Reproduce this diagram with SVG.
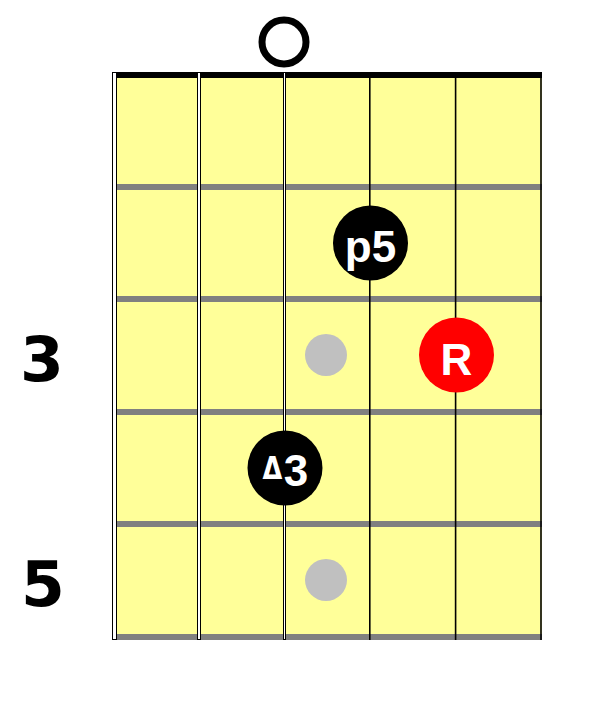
<svg xmlns="http://www.w3.org/2000/svg" width="614" height="702" viewBox="0 0 614 702">
<style>
.fret{fill:#808080}
.thick{fill:#ffffff;stroke:#000000;stroke-width:1}
.thin{stroke:#000000;stroke-width:1.6}
.lbl{font-family:"DejaVu Sans",Verdana,sans-serif;font-weight:bold;font-size:63px;fill:#000000;text-anchor:middle}
.dt{font-family:"Liberation Sans",Arial,sans-serif;font-weight:bold;font-size:44px;fill:#ffffff;text-anchor:middle}
.tri{font-family:"DejaVu Sans",sans-serif;font-weight:bold;font-size:32px;fill:#ffffff;text-anchor:middle}
.ghost{fill:#c0c0c0}
</style>
<rect width="614" height="702" fill="#ffffff"/>
<g id="fretboard">
<rect x="114" y="72" width="428" height="568" fill="#ffff99"/>
<rect x="114" y="72" width="428" height="6" fill="#000000"/>
<rect class="fret" x="114" y="184" width="428" height="6"/>
<rect class="fret" x="114" y="296" width="428" height="6"/>
<rect class="fret" x="114" y="409" width="428" height="6"/>
<rect class="fret" x="114" y="521" width="428" height="6"/>
<rect class="fret" x="114" y="634" width="428" height="6"/>
<rect class="thick" x="112.5" y="72.5" width="4" height="567"/>
<rect class="thick" x="197.5" y="72.5" width="3" height="567"/>
<rect class="thick" x="283.5" y="72.5" width="2" height="567"/>
<line class="thin" x1="369.8" y1="72" x2="369.8" y2="640"/>
<line class="thin" x1="455.6" y1="72" x2="455.6" y2="640"/>
<line class="thin" x1="541" y1="72" x2="541" y2="640"/>
</g>
<g id="open-string">
<circle cx="284" cy="42" r="22" fill="none" stroke="#000000" stroke-width="7"/>
</g>
<g id="fret-labels">
<text class="lbl" x="42" y="381">3</text>
<text class="lbl" x="43" y="606">5</text>
</g>
<g id="ghost-dots">
<circle class="ghost" cx="326" cy="355" r="21"/>
<circle class="ghost" cx="326" cy="580" r="21"/>
</g>
<g id="note-p5">
<circle cx="370.5" cy="243" r="37.5" fill="#000000"/>
<text class="dt" x="370.5" y="262">p5</text>
</g>
<g id="note-R">
<circle cx="456.5" cy="355" r="37.5" fill="#ff0000"/>
<text class="dt" x="456.5" y="375">R</text>
</g>
<g id="note-M3">
<circle cx="285" cy="468" r="37.5" fill="#000000"/>
<text class="tri" transform="translate(272.5,479) scale(0.8,1)" x="0" y="0">Δ</text>
<text class="dt" x="296" y="486">3</text>
</g>
</svg>
